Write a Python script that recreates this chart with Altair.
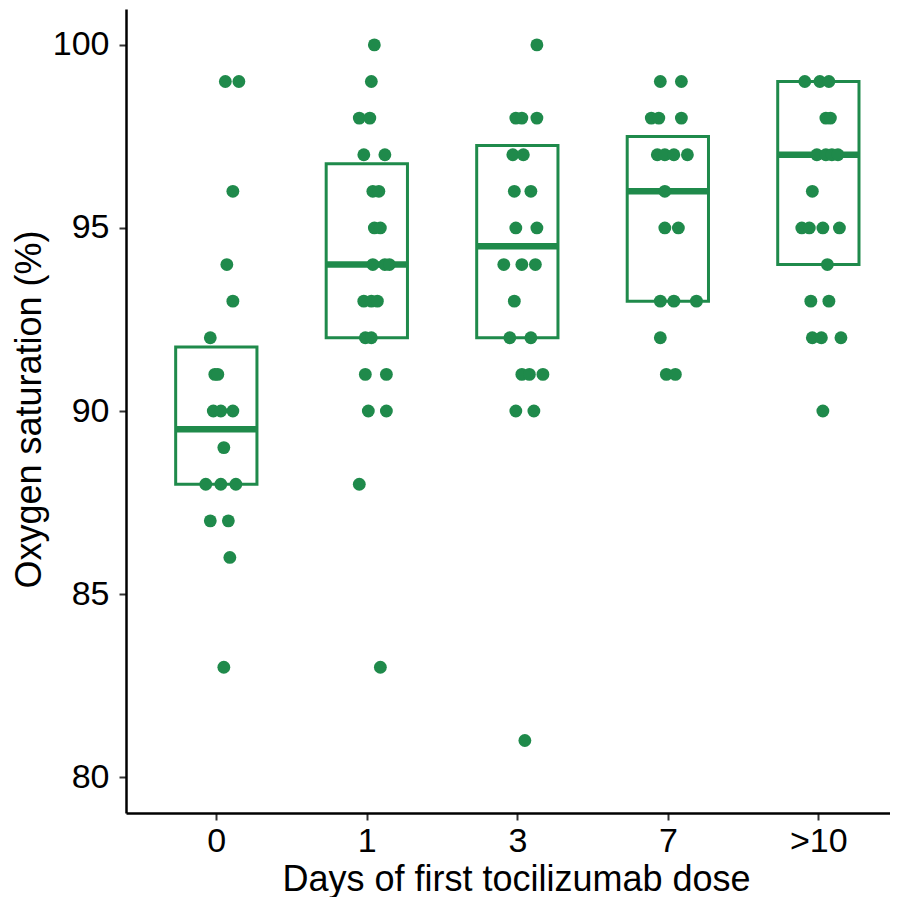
import altair as alt
import pandas as pd

# Category labels (x axis)
categories = ["0", "1", "3", "7", ">10"]

# Oxygen saturation values per group
vals_0 = [99, 99, 96, 94, 93, 92, 91, 91, 90, 90, 90, 89, 88, 88, 88, 87, 87, 86, 83]
jit_0 = [0.06, 0.15, 0.11, 0.07, 0.11, -0.04, -0.01, 0.01, -0.02, 0.03, 0.11, 0.05, -0.07, 0.03, 0.13, -0.04, 0.08, 0.09, 0.05]

vals_1 = [100, 99, 98, 98, 97, 97, 96, 96, 95, 95, 94, 94, 94, 93, 93, 93, 92, 92, 91, 91, 90, 90, 88, 83]
jit_1 = [0.05, 0.03, -0.05, 0.02, -0.02, 0.12, 0.04, 0.08, 0.05, 0.09, 0.04, 0.12, 0.15, -0.02, 0.03, 0.07, -0.01, 0.03, -0.01, 0.13, 0.01, 0.13, -0.05, 0.09]

vals_3 = [100, 98, 98, 98, 97, 97, 96, 96, 95, 95, 94, 94, 94, 93, 92, 92, 91, 91, 91, 90, 90, 81]
jit_3 = [0.13, -0.01, 0.03, 0.13, -0.03, 0.04, -0.02, 0.09, -0.01, 0.13, -0.09, 0.03, 0.12, -0.02, -0.05, 0.09, 0.03, 0.08, 0.17, -0.01, 0.11, 0.05]

vals_7 = [99, 99, 98, 98, 98, 97, 97, 97, 97, 96, 95, 95, 93, 93, 93, 92, 91, 91]
jit_7 = [-0.05, 0.09, -0.11, -0.06, 0.09, -0.07, -0.02, 0.04, 0.13, -0.02, -0.02, 0.07, -0.05, 0.04, 0.19, -0.05, -0.01, 0.05]

vals_10 = [99, 99, 99, 98, 98, 97, 97, 97, 97, 96, 95, 95, 95, 95, 94, 93, 93, 92, 92, 92, 90]
jit_10 = [-0.09, 0.01, 0.07, 0.05, 0.08, -0.01, 0.05, 0.09, 0.13, -0.04, -0.11, -0.06, 0.03, 0.14, 0.06, -0.05, 0.07, -0.04, 0.02, 0.15, 0.03]

# Box summary (lower edge, middle line, upper edge) per group
box_low = [88, 92, 92, 93, 94]
box_mid = [89.5, 94, 94.5, 96, 97]
box_high = [91.75, 96.75, 97.25, 97.5, 99]

GREEN = "#1f8a4b"
FONT = "Liberation Sans"

groups = [(vals_0, jit_0), (vals_1, jit_1), (vals_3, jit_3), (vals_7, jit_7), (vals_10, jit_10)]
rows = []
for i, (vs, js) in enumerate(groups):
    for v, j in zip(vs, js):
        rows.append({"idx": i + 1, "value": v, "jit": j})
pts = pd.DataFrame(rows)

boxes = pd.DataFrame({
    "idx": list(range(1, len(categories) + 1)),
    "low": box_low,
    "mid": box_mid,
    "high": box_high,
})

label_expr = "[" + ",".join("'" + c + "'" for c in categories) + "][datum.value - 1]"

xscale = alt.Scale(domain=[0.4, 5.476], nice=False, zero=False)
yscale = alt.Scale(domain=[79.02, 100.98], nice=False, zero=False)

xaxis = alt.Axis(
    values=[1, 2, 3, 4, 5], labelExpr=label_expr, grid=False, labelPadding=4,
    title="Days of first tocilizumab dose",
    titleX=390, titleY=77, titleBaseline="alphabetic", titleAnchor="middle", titleAlign="center",
)
yaxis = alt.Axis(
    values=[80, 85, 90, 95, 100], grid=False, labelPadding=10,
    title="Oxygen saturation (%)",
    titleX=-86, titleY=400, titleBaseline="alphabetic", titleAlign="center", titleAngle=270,
)

points = alt.Chart(pts).transform_calculate(
    xpos="datum.idx + datum.jit"
).mark_circle(size=165, color=GREEN, opacity=1).encode(
    x=alt.X("xpos:Q", scale=xscale, axis=xaxis),
    y=alt.Y("value:Q", scale=yscale, axis=yaxis),
)

box_rect = alt.Chart(boxes).transform_calculate(
    x1="datum.idx - 0.27", x2="datum.idx + 0.27"
).mark_rect(fill=None, fillOpacity=0, stroke=GREEN, strokeWidth=3).encode(
    x=alt.X("x1:Q", scale=xscale),
    x2="x2:Q",
    y=alt.Y("low:Q", scale=yscale),
    y2="high:Q",
)

box_mid_line = alt.Chart(boxes).transform_calculate(
    x1="datum.idx - 0.27", x2="datum.idx + 0.27"
).mark_rule(color=GREEN, strokeWidth=6.5).encode(
    x=alt.X("x1:Q", scale=xscale),
    x2="x2:Q",
    y=alt.Y("mid:Q", scale=yscale),
)

chart = alt.layer(box_rect, box_mid_line, points).properties(
    width=764, height=804,
    autosize=alt.AutoSizeParams(type="none"),
    padding={"left": 118, "top": 1, "right": 0, "bottom": 84},
).configure_view(stroke=None).configure_axis(
    domainColor="black", domainWidth=2.5,
    tickColor="#333333", tickWidth=2, tickSize=7,
    labelFont=FONT, labelFontSize=34, labelColor="black",
    titleFont=FONT, titleFontSize=36, titleFontWeight="normal", titleColor="black",
)

chart.save("out.html", embed_options={"renderer": "svg", "actions": False})
